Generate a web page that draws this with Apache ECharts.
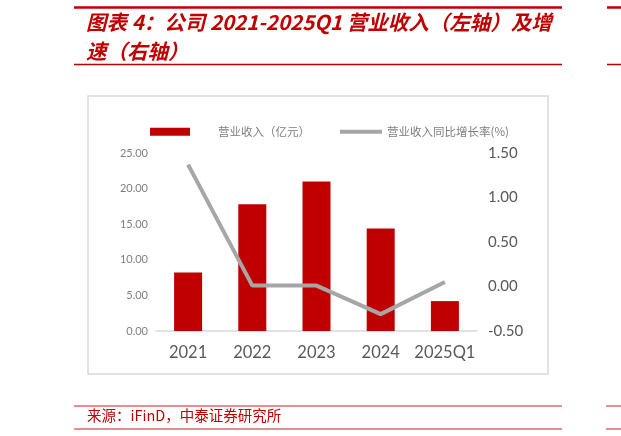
<!DOCTYPE html>
<html>
<head>
<meta charset="utf-8">
<title>营业收入及增速</title>
<script src="https://cdn.jsdelivr.net/npm/echarts@6/dist/echarts.min.js"></script>
<style>
    html, body { margin: 0; padding: 0; background: #fff; }
    #mainChart { width: 621px; height: 436px; }
</style>
</head>
<body>
<div id="mainChart"></div>
<script>
    /*数据*/
    var arrYear = ['2021', '2022', '2023', '2024', '2025Q1'];
    var arrRevenue = [8.2, 17.8, 21.0, 14.4, 4.2];      // 营业收入（亿元）
    var arrGrowth = [1.37, 0.01, 0.01, -0.31, 0.05];    // 营业收入同比增长率

    var red = '#c00000';
    var lineGray = '#a6a6a6';

    var mainChart = echarts.init(document.getElementById('mainChart'));
    var option = {
        backgroundColor: '#fff',
        animation: false,
        title: {
            text: '图表 4：公司 2021-2025Q1 营业收入（左轴）及增\n速（右轴）',
            left: 86,
            top: 8,
            padding: 0,
            textStyle: {
                color: red,
                fontSize: 20.5,
                fontWeight: 'bold',
                fontStyle: 'italic',
                fontFamily: '"Noto Sans CJK SC", sans-serif',
                lineHeight: 29
            }
        },
        /*页眉页脚的红线、图框*/
        graphic: [
            { type: 'line', shape: { x1: 74, y1: 7.5, x2: 562, y2: 7.5 }, style: { stroke: red, lineWidth: 2.5 } },
            { type: 'line', shape: { x1: 74, y1: 64.5, x2: 562, y2: 64.5 }, style: { stroke: red, lineWidth: 1.5 } },
            { type: 'line', shape: { x1: 607, y1: 7.5, x2: 621, y2: 7.5 }, style: { stroke: red, lineWidth: 2.5 } },
            { type: 'line', shape: { x1: 607, y1: 64.5, x2: 621, y2: 64.5 }, style: { stroke: red, lineWidth: 1.5 } },
            { type: 'rect', shape: { x: 88, y: 96, width: 460, height: 278 }, style: { fill: null, stroke: '#d9d9d9', lineWidth: 1.5 }, z: -1 },
            { type: 'line', shape: { x1: 74, y1: 406, x2: 562, y2: 406 }, style: { stroke: '#d66b6b', lineWidth: 1.5 } },
            { type: 'line', shape: { x1: 74, y1: 429, x2: 562, y2: 429 }, style: { stroke: '#d66b6b', lineWidth: 1.5 } },
            { type: 'line', shape: { x1: 606, y1: 406, x2: 621, y2: 406 }, style: { stroke: '#d66b6b', lineWidth: 1.5 } },
            { type: 'line', shape: { x1: 606, y1: 429, x2: 621, y2: 429 }, style: { stroke: '#d66b6b', lineWidth: 1.5 } },
            {
                type: 'text', left: 87, top: 408,
                style: { text: '来源：iFinD，中泰证券研究所', fill: red, font: '14.5px "Noto Sans CJK SC", sans-serif' }
            }
        ],
        legend: [
            {
                data: [{ name: '营业收入（亿元）', icon: 'rect' }],
                left: 150,
                top: 126,
                padding: 0,
                itemWidth: 40,
                itemHeight: 8,
                textStyle: { color: '#7f7f7f', fontSize: 11.5, fontFamily: '"Noto Sans CJK SC", sans-serif', padding: [0, 0, 0, 23] }
            },
            {
                data: [{ name: '营业收入同比增长率(%)', icon: 'rect' }],
                left: 340,
                top: 126,
                padding: 0,
                itemWidth: 42,
                itemHeight: 4,
                textStyle: { color: '#7f7f7f', fontSize: 11.5, fontFamily: '"Noto Sans CJK SC", sans-serif' }
            }
        ],
        grid: {
            left: 156,
            right: 144,
            top: 153,
            bottom: 105
        },
        xAxis: [
            {
                type: 'category',
                data: arrYear,
                axisLine: { lineStyle: { color: '#d9d9d9', width: 1.5 } },
                axisTick: { show: false },
                axisLabel: { color: '#595959', fontSize: 16.5, margin: 13, interval: 0, hideOverlap: false, fontFamily: 'Lato, sans-serif' }
            }
        ],
        yAxis: [
            {
                type: 'value',
                min: 0,
                max: 25,
                interval: 5,
                axisLine: { show: false },
                axisTick: { show: false },
                splitLine: { show: false },
                axisLabel: {
                    color: '#7f7f7f', fontSize: 11, margin: 8, fontFamily: 'Lato, sans-serif',
                    formatter: function (v) { return v.toFixed(2); }
                }
            },
            {
                type: 'value',
                min: -0.5,
                max: 1.5,
                interval: 0.5,
                axisLine: { show: false },
                axisTick: { show: false },
                splitLine: { show: false },
                axisLabel: {
                    color: '#595959', fontSize: 15, margin: 11, fontFamily: 'Lato, sans-serif',
                    formatter: function (v) { return v.toFixed(2); }
                }
            }
        ],
        series: [
            {
                name: '营业收入（亿元）',
                type: 'bar',
                barWidth: 28,
                yAxisIndex: 0,
                itemStyle: { color: red },
                data: arrRevenue
            },
            {
                name: '营业收入同比增长率(%)',
                type: 'line',
                yAxisIndex: 1,
                symbol: 'none',
                itemStyle: { color: lineGray },
                lineStyle: { color: lineGray, width: 4 },
                data: arrGrowth
            }
        ]
    };
    // 使用刚指定的配置项和数据显示图表。
    mainChart.setOption(option);
</script>
</body>
</html>
